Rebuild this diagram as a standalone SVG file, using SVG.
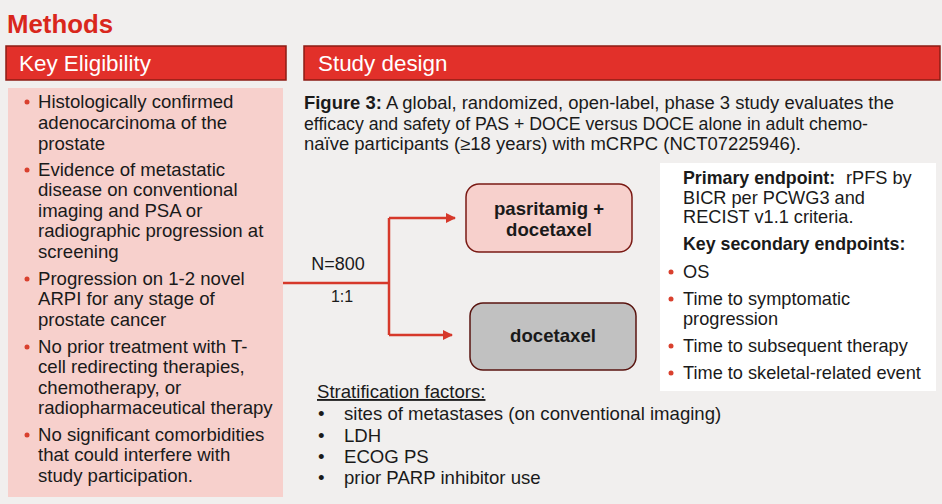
<svg xmlns="http://www.w3.org/2000/svg" width="942" height="504" viewBox="0 0 942 504">
<defs>
<style>
.t{font-family:"Liberation Sans",Arial,sans-serif;fill:#1a1a1a;font-size:18.6px}
.e{font-size:18.2px}
.b{font-weight:bold}
.hd{font-family:"Liberation Sans",Arial,sans-serif;fill:#ffffff;font-size:22.4px}
.hbar{fill:#e2302a;stroke:#8c1c15;stroke-width:1.5}
.dot{fill:#d9402e}
.conn{fill:none;stroke:#d6382a;stroke-width:2.5}
</style>
<marker id="ah" viewBox="0 0 10 10" refX="9" refY="5" markerWidth="10" markerHeight="10" markerUnits="userSpaceOnUse" orient="auto">
<path d="M0,0 L10,5 L0,10 z" fill="#d6382a"/>
</marker>
</defs>
<rect x="0" y="0" width="942" height="504" fill="#f1efee"/>
<text x="7" y="33" style="font-family:'Liberation Sans',Arial,sans-serif;font-weight:bold;font-size:25.8px;fill:#d9271c">Methods</text>

<g id="key-eligibility-header">
<rect class="hbar" x="6" y="46" width="280" height="34"/>
<text class="hd" x="19" y="71">Key Eligibility</text>
</g>
<g id="study-design-header">
<rect class="hbar" x="304" y="46" width="636" height="34"/>
<text class="hd" x="318" y="71">Study design</text>
</g>

<g id="eligibility-panel">
<rect x="8" y="88" width="275" height="409" fill="#f7d0cc"/>
<g class="t">
<circle class="dot" cx="27" cy="102" r="2.5"/>
<text x="38" y="108">Histologically confirmed</text>
<text x="38" y="129">adenocarcinoma of the</text>
<text x="38" y="150">prostate</text>
<circle class="dot" cx="27" cy="170" r="2.5"/>
<text x="38" y="176">Evidence of metastatic</text>
<text x="38" y="196">disease on conventional</text>
<text x="38" y="217">imaging and PSA or</text>
<text x="38" y="237">radiographic progression at</text>
<text x="38" y="258">screening</text>
<circle class="dot" cx="27" cy="279" r="2.5"/>
<text x="38" y="285">Progression on 1-2 novel</text>
<text x="38" y="305">ARPI for any stage of</text>
<text x="38" y="326">prostate cancer</text>
<circle class="dot" cx="27" cy="347" r="2.5"/>
<text x="38" y="353">No prior treatment with T-</text>
<text x="38" y="373">cell redirecting therapies,</text>
<text x="38" y="394">chemotherapy, or</text>
<text x="38" y="414">radiopharmaceutical therapy</text>
<circle class="dot" cx="27" cy="435" r="2.5"/>
<text x="38" y="441">No significant comorbidities</text>
<text x="38" y="461">that could interfere with</text>
<text x="38" y="482">study participation.</text>
</g>
</g>

<g id="figure-caption" class="t" style="font-size:17.5px">
<text x="304" y="109" textLength="590" lengthAdjust="spacingAndGlyphs"><tspan class="b">Figure 3:</tspan> A global, randomized, open-label, phase 3 study evaluates the</text>
<text x="304" y="130" textLength="564" lengthAdjust="spacingAndGlyphs">efficacy and safety of PAS + DOCE versus DOCE alone in adult chemo-</text>
<text x="304" y="150" textLength="497" lengthAdjust="spacingAndGlyphs">naïve participants (≥18 years) with mCRPC (NCT07225946).</text>
</g>

<g id="connectors">
<path class="conn" d="M283,283 H389"/>
<path class="conn" d="M389,218 V335"/>
<path class="conn" d="M389,218 H455" marker-end="url(#ah)"/>
<path class="conn" d="M389,335 H452" marker-end="url(#ah)"/>
<text class="t" x="338" y="270" text-anchor="middle" style="font-size:18px">N=800</text>
<text class="t" x="342" y="302" text-anchor="middle" style="font-size:16px">1:1</text>
</g>

<g id="node-pasritamig-docetaxel">
<rect x="466" y="184" width="166" height="68" rx="13" fill="#f7d0cc" stroke="#7a1a14" stroke-width="1.5"/>
<text class="t b" x="549" y="215" text-anchor="middle">pasritamig +</text>
<text class="t b" x="549" y="236" text-anchor="middle">docetaxel</text>
</g>
<g id="node-docetaxel">
<rect x="470" y="303" width="166" height="67" rx="13" fill="#c1c1c1" stroke="#5a1510" stroke-width="1.5"/>
<text class="t b" x="553" y="342" text-anchor="middle">docetaxel</text>
</g>

<g id="endpoints">
<rect x="660" y="163" width="276" height="228" fill="#ffffff"/>
<g class="t e">
<text x="683" y="184" class="b" style="font-size:17.8px">Primary endpoint:</text>
<text x="846" y="184">rPFS by</text>
<text x="683" y="204">BICR per PCWG3 and</text>
<text x="683" y="223">RECIST v1.1 criteria.</text>
<text x="683" y="250" class="b" style="font-size:17.8px">Key secondary endpoints:</text>
<circle class="dot" cx="671" cy="272" r="2.5"/>
<text x="683" y="278">OS</text>
<circle class="dot" cx="671" cy="299" r="2.5"/>
<text x="683" y="305">Time to symptomatic</text>
<text x="683" y="325">progression</text>
<circle class="dot" cx="671" cy="346" r="2.5"/>
<text x="683" y="352">Time to subsequent therapy</text>
<circle class="dot" cx="671" cy="373" r="2.5"/>
<text x="683" y="379">Time to skeletal-related event</text>
</g>
</g>

<g id="stratification" class="t">
<text x="317" y="398" text-decoration="underline">Stratification factors:</text>
<text x="318" y="420">•</text><text x="344" y="420">sites of metastases (on conventional imaging)</text>
<text x="318" y="442">•</text><text x="344" y="442">LDH</text>
<text x="318" y="463">•</text><text x="344" y="463">ECOG PS</text>
<text x="318" y="484">•</text><text x="344" y="484">prior PARP inhibitor use</text>
</g>
</svg>
